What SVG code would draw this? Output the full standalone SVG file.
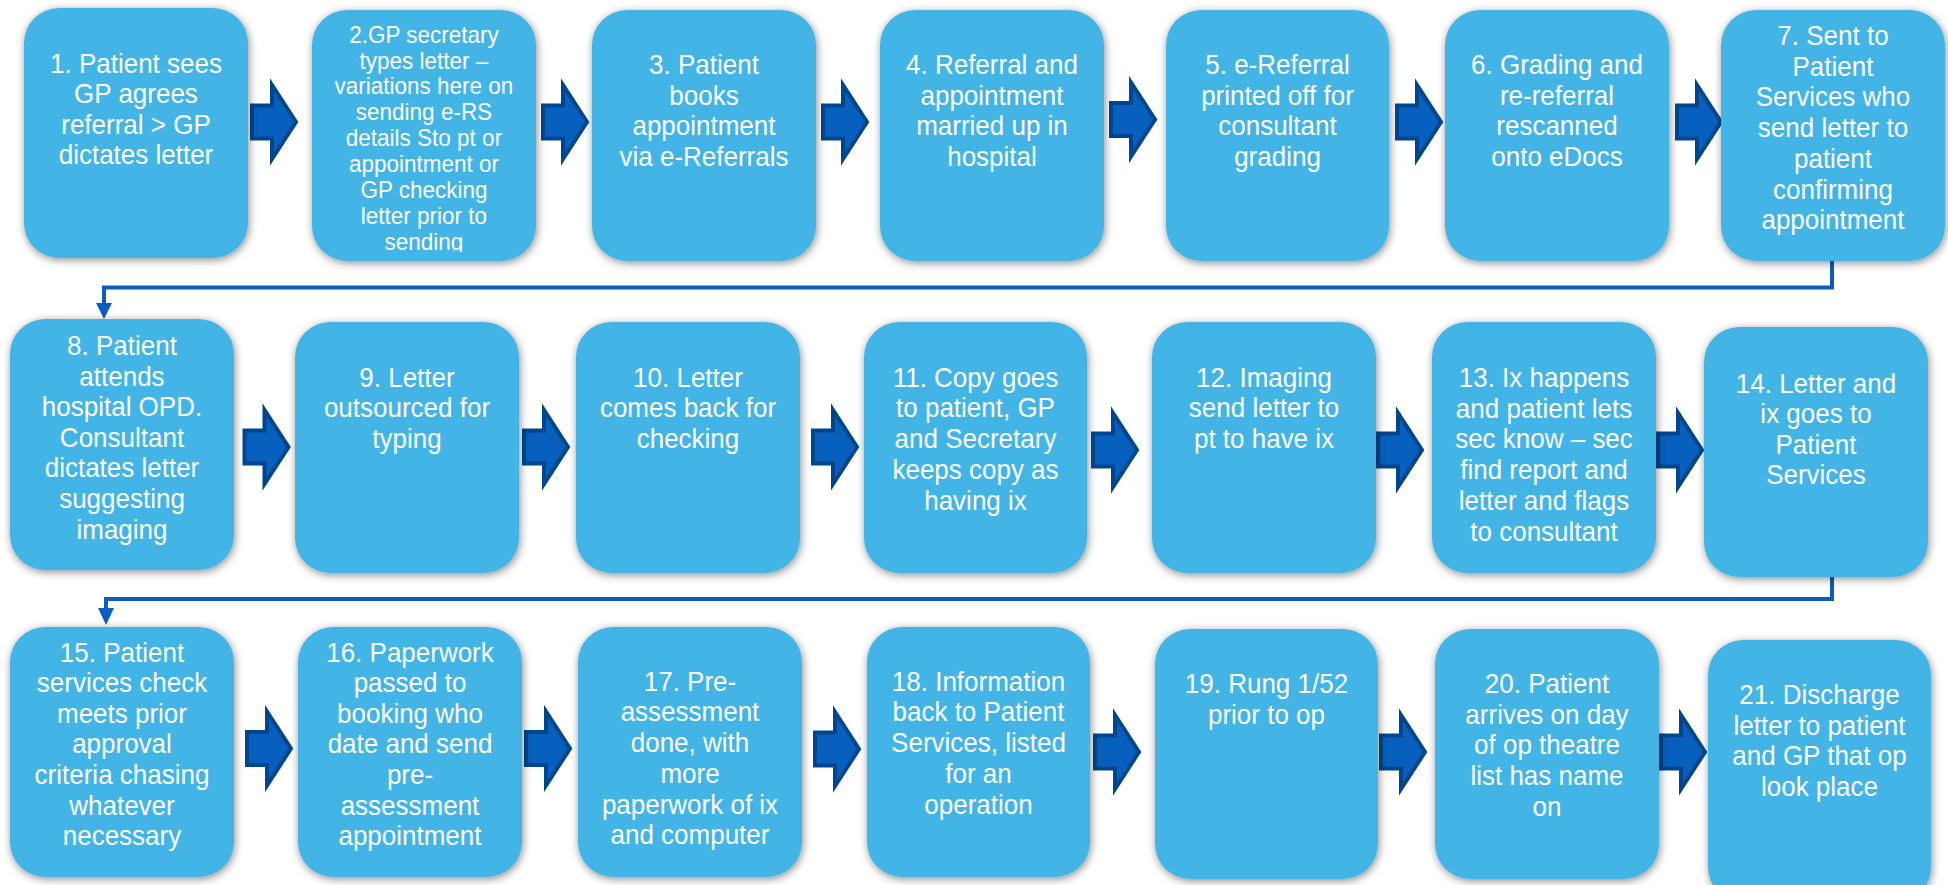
<svg xmlns="http://www.w3.org/2000/svg" width="1948" height="885" viewBox="0 0 1948 885">
<defs>
<style>
.box{fill:#42B4E6;filter:url(#sh);}
.t{font-family:"Liberation Sans",Arial,sans-serif;font-size:26px;fill:#ffffff;text-anchor:middle;}
.t2{font-family:"Liberation Sans",Arial,sans-serif;font-size:22.5px;fill:#ffffff;text-anchor:middle;}
.arr{fill:#0760BD;stroke:#00468F;stroke-width:4;stroke-linejoin:miter;}
.con{fill:none;stroke:#0B5DC2;stroke-width:4;}
.head{fill:#0B5DC2;}
</style>
<filter id="sh" x="-10%" y="-10%" width="120%" height="120%">
<feDropShadow dx="1" dy="2" stdDeviation="4" flood-color="#000" flood-opacity="0.45"/>
</filter>
<path id="ba" d="M2,-16.5 L22,-16.5 L22,-37 L46,0 L22,37 L22,16.5 L2,16.5 Z"/>
<clipPath id="c2"><rect x="312" y="10" width="224" height="242"/></clipPath>
</defs>
<rect width="1948" height="885" fill="#ffffff"/>

<g id="connectors">
<path class="con" d="M1832,258 V287.5 H104 V305"/>
<path class="head" d="M96,303 L112,303 L104,319 Z"/>
<path class="con" d="M1832,577 V599 H106 V610"/>
<path class="head" d="M98,608 L114,608 L106,625 Z"/>
<g class="arr">
<use href="#ba" x="250" y="122"/>
<use href="#ba" x="541" y="122"/>
<use href="#ba" x="821" y="122"/>
<use href="#ba" x="1109" y="119.5"/>
<use href="#ba" x="1395" y="122"/>
<use href="#ba" x="1675" y="122"/>
<use href="#ba" x="242.5" y="447"/>
<use href="#ba" x="522" y="447"/>
<use href="#ba" x="811" y="447"/>
<use href="#ba" x="1091" y="450"/>
<use href="#ba" x="1376" y="450"/>
<use href="#ba" x="1656" y="450"/>
<use href="#ba" x="245" y="748.5"/>
<use href="#ba" x="524" y="748.5"/>
<use href="#ba" x="813" y="749"/>
<use href="#ba" x="1093" y="752"/>
<use href="#ba" x="1379" y="752"/>
<use href="#ba" x="1659" y="752"/>
</g>
</g>

<g id="n1"><rect class="box" x="24" y="8" width="224" height="250" rx="35"/>
<text class="t" transform="scale(1,1.08)" y="67.59"><tspan x="136">1. Patient sees</tspan><tspan x="136" dy="28.24">GP agrees</tspan><tspan x="136" dy="28.24">referral &gt; GP</tspan><tspan x="136" dy="28.24">dictates letter</tspan></text></g>

<g id="n2"><rect class="box" x="312" y="10" width="224" height="251" rx="35"/>
<g clip-path="url(#c2)"><text class="t2" transform="scale(1,1.08)" y="39.54"><tspan x="424">2.GP secretary</tspan><tspan x="424" dy="23.98">types letter –</tspan><tspan x="424" dy="23.98">variations here on</tspan><tspan x="424" dy="23.98">sending e-RS</tspan><tspan x="424" dy="23.98">details Sto pt or</tspan><tspan x="424" dy="23.98">appointment or</tspan><tspan x="424" dy="23.98">GP checking</tspan><tspan x="424" dy="23.98">letter prior to</tspan><tspan x="424" dy="23.98">sending</tspan></text></g></g>

<g id="n3"><rect class="box" x="592" y="10" width="224" height="251" rx="35"/>
<text class="t" transform="scale(1,1.08)" y="68.52"><tspan x="704">3. Patient</tspan><tspan x="704" dy="28.43">books</tspan><tspan x="704" dy="28.43">appointment</tspan><tspan x="704" dy="28.43">via e-Referrals</tspan></text></g>

<g id="n4"><rect class="box" x="880" y="10" width="224" height="251" rx="35"/>
<text class="t" transform="scale(1,1.08)" y="68.52"><tspan x="992">4. Referral and</tspan><tspan x="992" dy="28.43">appointment</tspan><tspan x="992" dy="28.43">married up in</tspan><tspan x="992" dy="28.43">hospital</tspan></text></g>

<g id="n5"><rect class="box" x="1166" y="10" width="223" height="251" rx="35"/>
<text class="t" transform="scale(1,1.08)" y="68.52"><tspan x="1277.5">5. e-Referral</tspan><tspan x="1277.5" dy="28.43">printed off for</tspan><tspan x="1277.5" dy="28.43">consultant</tspan><tspan x="1277.5" dy="28.43">grading</tspan></text></g>

<g id="n6"><rect class="box" x="1445" y="10" width="224" height="251" rx="35"/>
<text class="t" transform="scale(1,1.08)" y="68.52"><tspan x="1557">6. Grading and</tspan><tspan x="1557" dy="28.43">re-referral</tspan><tspan x="1557" dy="28.43">rescanned</tspan><tspan x="1557" dy="28.43">onto eDocs</tspan></text></g>

<g id="n7"><rect class="box" x="1721" y="10" width="224" height="251" rx="35"/>
<text class="t" transform="scale(1,1.08)" y="41.67"><tspan x="1833">7. Sent to</tspan><tspan x="1833" dy="28.43">Patient</tspan><tspan x="1833" dy="28.43">Services who</tspan><tspan x="1833" dy="28.43">send letter to</tspan><tspan x="1833" dy="28.43">patient</tspan><tspan x="1833" dy="28.43">confirming</tspan><tspan x="1833" dy="28.43">appointment</tspan></text></g>

<g id="n8"><rect class="box" x="10" y="319" width="224" height="251" rx="35"/>
<text class="t" transform="scale(1,1.08)" y="328.70"><tspan x="122">8. Patient</tspan><tspan x="122" dy="28.33">attends</tspan><tspan x="122" dy="28.33">hospital OPD.</tspan><tspan x="122" dy="28.33">Consultant</tspan><tspan x="122" dy="28.33">dictates letter</tspan><tspan x="122" dy="28.33">suggesting</tspan><tspan x="122" dy="28.33">imaging</tspan></text></g>

<g id="n9"><rect class="box" x="295" y="322" width="224" height="251" rx="35"/>
<text class="t" transform="scale(1,1.08)" y="358.06"><tspan x="407">9. Letter</tspan><tspan x="407" dy="28.43">outsourced for</tspan><tspan x="407" dy="28.43">typing</tspan></text></g>

<g id="n10"><rect class="box" x="576" y="322" width="224" height="251" rx="35"/>
<text class="t" transform="scale(1,1.08)" y="358.06"><tspan x="688">10. Letter</tspan><tspan x="688" dy="28.43">comes back for</tspan><tspan x="688" dy="28.43">checking</tspan></text></g>

<g id="n11"><rect class="box" x="864" y="322" width="223" height="251" rx="35"/>
<text class="t" transform="scale(1,1.08)" y="358.06"><tspan x="975.5">11. Copy goes</tspan><tspan x="975.5" dy="28.43">to patient, GP</tspan><tspan x="975.5" dy="28.43">and Secretary</tspan><tspan x="975.5" dy="28.43">keeps copy as</tspan><tspan x="975.5" dy="28.43">having ix</tspan></text></g>

<g id="n12"><rect class="box" x="1152" y="322" width="224" height="251" rx="35"/>
<text class="t" transform="scale(1,1.08)" y="358.06"><tspan x="1264">12. Imaging</tspan><tspan x="1264" dy="28.43">send letter to</tspan><tspan x="1264" dy="28.43">pt to have ix</tspan></text></g>

<g id="n13"><rect class="box" x="1432" y="322" width="224" height="251" rx="35"/>
<text class="t" transform="scale(1,1.08)" y="358.33"><tspan x="1544">13. Ix happens</tspan><tspan x="1544" dy="28.43">and patient lets</tspan><tspan x="1544" dy="28.43">sec know – sec</tspan><tspan x="1544" dy="28.43">find report and</tspan><tspan x="1544" dy="28.43">letter and flags</tspan><tspan x="1544" dy="28.43">to consultant</tspan></text></g>

<g id="n14"><rect class="box" x="1704" y="327" width="224" height="250" rx="35"/>
<text class="t" transform="scale(1,1.08)" y="363.89"><tspan x="1816">14. Letter and</tspan><tspan x="1816" dy="28.24">ix goes to</tspan><tspan x="1816" dy="28.24">Patient</tspan><tspan x="1816" dy="28.24">Services</tspan></text></g>

<g id="n15"><rect class="box" x="10" y="627" width="224" height="250" rx="35"/>
<text class="t" transform="scale(1,1.08)" y="612.69"><tspan x="122">15. Patient</tspan><tspan x="122" dy="28.33">services check</tspan><tspan x="122" dy="28.33">meets prior</tspan><tspan x="122" dy="28.33">approval</tspan><tspan x="122" dy="28.33">criteria chasing</tspan><tspan x="122" dy="28.33">whatever</tspan><tspan x="122" dy="28.33">necessary</tspan></text></g>

<g id="n16"><rect class="box" x="298" y="627" width="224" height="250" rx="35"/>
<text class="t" transform="scale(1,1.08)" y="612.69"><tspan x="410">16. Paperwork</tspan><tspan x="410" dy="28.33">passed to</tspan><tspan x="410" dy="28.33">booking who</tspan><tspan x="410" dy="28.33">date and send</tspan><tspan x="410" dy="28.33">pre-</tspan><tspan x="410" dy="28.33">assessment</tspan><tspan x="410" dy="28.33">appointment</tspan></text></g>

<g id="n17"><rect class="box" x="578" y="627" width="224" height="250" rx="35"/>
<text class="t" transform="scale(1,1.08)" y="639.54"><tspan x="690">17. Pre-</tspan><tspan x="690" dy="28.43">assessment</tspan><tspan x="690" dy="28.43">done, with</tspan><tspan x="690" dy="28.43">more</tspan><tspan x="690" dy="28.43">paperwork of ix</tspan><tspan x="690" dy="28.43">and computer</tspan></text></g>

<g id="n18"><rect class="box" x="867" y="627" width="223" height="250" rx="35"/>
<text class="t" transform="scale(1,1.08)" y="639.54"><tspan x="978.5">18. Information</tspan><tspan x="978.5" dy="28.43">back to Patient</tspan><tspan x="978.5" dy="28.43">Services, listed</tspan><tspan x="978.5" dy="28.43">for an</tspan><tspan x="978.5" dy="28.43">operation</tspan></text></g>

<g id="n19"><rect class="box" x="1155" y="629" width="223" height="250" rx="35"/>
<text class="t" transform="scale(1,1.08)" y="641.94"><tspan x="1266.5">19. Rung 1/52</tspan><tspan x="1266.5" dy="28.43">prior to op</tspan></text></g>

<g id="n20"><rect class="box" x="1435" y="629" width="224" height="250" rx="35"/>
<text class="t" transform="scale(1,1.08)" y="641.94"><tspan x="1547">20. Patient</tspan><tspan x="1547" dy="28.33">arrives on day</tspan><tspan x="1547" dy="28.33">of op theatre</tspan><tspan x="1547" dy="28.33">list has name</tspan><tspan x="1547" dy="28.33">on</tspan></text></g>

<g id="n21"><rect class="box" x="1708" y="640" width="223" height="262" rx="35"/>
<text class="t" transform="scale(1,1.08)" y="651.85"><tspan x="1819.5">21. Discharge</tspan><tspan x="1819.5" dy="28.33">letter to patient</tspan><tspan x="1819.5" dy="28.33">and GP that op</tspan><tspan x="1819.5" dy="28.33">look place</tspan></text></g>
</svg>
